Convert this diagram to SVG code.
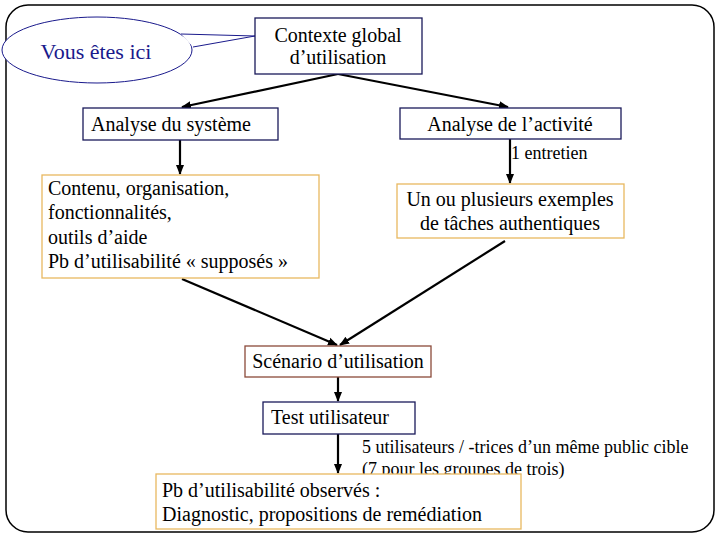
<svg xmlns="http://www.w3.org/2000/svg" width="720" height="540" viewBox="0 0 720 540">
<defs>
<marker id="ah" markerWidth="10" markerHeight="10" refX="9" refY="5" orient="auto" markerUnits="userSpaceOnUse">
<path d="M0,1 L10,5 L0,9 Z" fill="#000"/>
</marker>
<style>
text{font-family:"Liberation Serif","Times New Roman",serif;fill:#000;font-size:20px}
.nav{fill:#fff;stroke:#1a1a5a;stroke-width:1.3}
.gold{fill:#fff;stroke:#e8b860;stroke-width:1.3}
.brown{fill:#fff;stroke:#8b4a3a;stroke-width:1.3}
.c{text-anchor:middle}
.lbl{font-size:18px}
.conn path{fill:none;stroke:#000;stroke-width:2.2;marker-end:url(#ah)}
</style>
</defs>
<rect x="0" y="0" width="720" height="540" fill="#fff"/>
<rect x="6" y="5" width="708" height="527" rx="22" ry="22" fill="none" stroke="#000" stroke-width="1.5"/>

<g id="vous">
<ellipse cx="97" cy="50" rx="95" ry="33" fill="#fff" stroke="#1a1a8c" stroke-width="1"/>
<polygon points="181,34 255,36 193,47" fill="#fff" stroke="none"/>
<path d="M181,34 L255,36 L193,47" fill="none" stroke="#1a1a8c" stroke-width="1"/>
<text x="96" y="59" class="c" style="fill:#1a1a8c;font-size:22px">Vous êtes ici</text>
</g>

<g class="conn">
<path d="M338,74 L182,107"/>
<path d="M338,74 L508,107"/>
<path d="M180,140 L180,174"/>
<path d="M510,139 L510,183"/>
<path d="M182,279 L337,345"/>
<path d="M505,241 L340,345"/>
<path d="M338,377 L338,401"/>
<path d="M338,434 L338,473"/>
</g>

<g id="contexte">
<rect x="255" y="18" width="167" height="56" class="nav"/>
<text x="338" y="42" class="c">Contexte global</text>
<text x="338" y="64" class="c">d’utilisation</text>
</g>

<g id="systeme">
<rect x="83" y="108" width="195" height="32" class="nav"/>
<text x="91" y="131">Analyse du système</text>
</g>

<g id="activite">
<rect x="400" y="108" width="221" height="31" class="nav"/>
<text x="510" y="131" class="c">Analyse de l’activité</text>
</g>

<text x="511" y="159" class="lbl">1 entretien</text>

<g id="contenu">
<rect x="42" y="175" width="277" height="103" class="gold"/>
<text x="48" y="195">Contenu, organisation,</text>
<text x="48" y="219">fonctionnalités,</text>
<text x="48" y="244">outils d’aide</text>
<text x="48" y="268">Pb d’utilisabilité « supposés »</text>
</g>

<g id="taches">
<rect x="397" y="184" width="227" height="54" class="gold"/>
<text x="510" y="206" class="c">Un ou plusieurs exemples</text>
<text x="510" y="230" class="c">de tâches authentiques</text>
</g>

<g id="scenario">
<rect x="245" y="346" width="186" height="31" class="brown"/>
<text x="338" y="368" class="c">Scénario d’utilisation</text>
</g>

<g id="test">
<rect x="263" y="402" width="152" height="32" class="nav"/>
<text x="271" y="424">Test utilisateur</text>
</g>

<text x="362" y="453" class="lbl">5 utilisateurs / -trices d’un même public cible</text>
<text x="362" y="475" class="lbl">(7 pour les groupes de trois)</text>

<g id="diagnostic">
<rect x="156" y="474" width="365" height="55" class="gold"/>
<text x="162" y="497">Pb d’utilisabilité observés :</text>
<text x="162" y="521">Diagnostic, propositions de remédiation</text>
</g>
</svg>
